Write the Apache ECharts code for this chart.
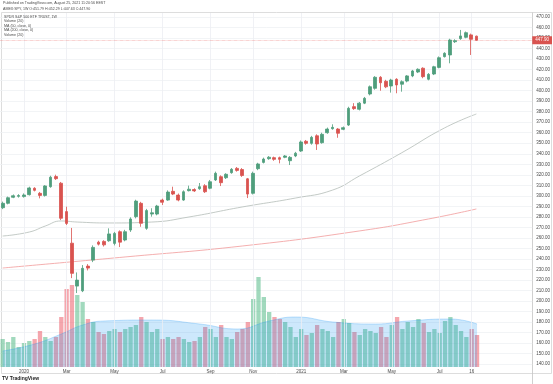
<!DOCTYPE html>
<html><head><meta charset="utf-8">
<script src="https://cdn.jsdelivr.net/npm/echarts@6/dist/echarts.min.js"></script>
<style>html,body{margin:0;padding:0;background:#fff}#c{width:553px;height:384px}</style>
</head><body><div id="c"></div>
<script>
// Weekly OHLC
const openP = [288.7,292.9,298.6,299.5,299.3,301.1,307.2,302.4,300.4,308.7,
318.3,312.0,285.0,255.0,214.2,209.7,233.2,238.9,256.0,256.7,
257.3,254.8,265.9,258.0,267.5,280.2,292.9,269.1,282.7,282.7,
296.0,296.0,304.3,300.7,296.0,304.9,306.0,306.8,309.6,307.2,
315.1,318.2,317.2,322.0,326.1,325.0,316.2,302.4,325.8,331.8,
335.3,336.3,336.3,336.6,333.4,337.9,342.6,351.9,349.9,357.1,
350.5,360.0,363.8,363.5,363.2,367.3,384.8,382.3,388.1,396.8,
402.2,412.7,408.9,404.4,410.8,406.1,409.1,414.0,417.7,421.3,
410.8,415.8,422.1,432.3,433.9,446.5,449.4,450.7,453.0,451.8];
const closeP = [292.9,298.2,300.1,300.3,300.8,307.5,305.2,300.4,309.4,317.7,
316.3,278.7,273.8,226.3,219.9,231.1,231.3,251.0,254.1,253.4,
263.8,264.3,256.0,265.9,278.0,295.0,273.9,286.0,283.9,290.3,
293.9,303.6,301.7,296.0,303.9,306.3,304.7,308.7,303.9,313.4,
321.4,312.5,320.5,325.2,324.2,319.3,301.7,321.4,330.3,335.0,
336.7,334.7,334.7,337.9,336.6,340.5,351.2,349.9,355.6,349.3,
358.5,363.5,365.1,359.5,364.8,383.2,382.9,388.1,392.7,403.7,
412.7,407.5,403.6,410.1,405.4,408.5,414.0,418.7,420.3,413.3,
415.5,422.7,431.3,435.5,448.1,447.5,452.0,455.1,448.8,447.9];
const lowP = [287.4,291.9,297.8,298.3,298.3,300.3,304.2,297.6,299.3,307.7,
315.1,277.0,272.3,221.8,207.6,208.5,229.1,237.0,252.8,251.8,
256.3,252.9,251.3,256.8,265.7,278.6,270.6,267.7,280.2,281.5,
291.3,295.3,300.7,294.8,295.3,304.2,303.7,305.7,302.7,306.2,
314.1,309.3,316.0,321.0,323.0,318.0,297.9,301.3,324.4,330.8,
334.3,333.3,330.9,335.8,329.3,336.8,341.7,348.6,348.6,343.6,
349.6,359.0,362.9,355.2,362.4,366.4,381.7,381.2,387.2,395.5,
400.9,399.9,402.4,398.1,397.5,399.0,407.9,412.8,416.7,411.8,
409.8,414.8,421.2,431.5,426.0,445.3,448.3,449.8,433.9,447.6];
const highP = [294.5,299.3,301.3,301.6,302.3,308.7,308.2,303.7,310.2,319.1,
320.1,313.2,289.7,269.5,227.2,234.2,235.1,252.9,257.3,257.8,
269.1,265.7,267.2,267.7,279.6,296.3,294.3,287.6,288.2,291.4,
297.3,305.2,308.7,302.2,305.2,309.7,307.2,312.2,311.1,315.1,
323.0,319.5,321.5,326.4,327.4,326.4,317.0,323.0,331.4,336.3,
337.8,337.3,337.3,338.8,337.8,341.8,352.6,353.1,357.0,358.5,
360.0,364.9,368.0,364.4,365.9,384.7,388.1,389.2,394.0,404.9,
413.8,413.8,410.3,411.3,411.8,409.8,414.8,419.7,421.2,422.2,
416.7,423.6,432.5,436.5,449.3,448.8,457.7,456.2,454.2,452.3];
// Volume (arbitrary units)
const volume = [280,250,300,200,240,260,280,360,300,260,
300,500,780,820,720,650,480,450,350,330,
360,380,350,380,400,420,500,450,350,380,
280,300,280,300,280,250,260,300,400,380,
300,420,300,280,350,380,450,680,900,700,
550,500,480,450,400,300,380,320,340,420,
380,360,300,450,480,440,350,320,380,360,
340,400,300,420,500,380,450,400,480,440,
350,380,340,460,500,420,360,300,380,320];
// Moving averages read at points [weekIndex, value]
const ma50 = [[0,261.8],[5,265.6],[8,271.3],[11,276.1],[14,275.1],[20,274.2],[28,275.1],[35,279.9],[45,289.4],[55,297.9],[62,305.5],[67,318.8],[75,341.0],[83,364.5],[89,377.8]];
const ma200 = [[0,231.4],[23,241.9],[45,252.3],[67,266.6],[80,278.0],[89,287.5]];
const volMA = [[0,160],[6,230],[11,330],[15,420],[19,460],[28,470],[37,430],[44,380],[50,460],[55,500],[62,450],[70,430],[76,460],[84,480],[89,430]];
// Time-axis ticks
const tickIndex = [4,12,21,30,39,47,56,64,73,82,88];
const tickLabel = ['2020','Mar','May','Jul','Sep','Nov','2021','Mar','May','Jul','16'];
const totalSlots = 100;

const cats = [];
const start = new Date(Date.UTC(2019, 11, 9));
for (let i = 0; i < totalSlots; i++) {
  const d = new Date(start.getTime() + i * 7 * 864e5);
  cats.push(d.toISOString().slice(0, 10));
}
const UP = '#4f9e7c', DOWN = '#d9534f';
const candles = openP.map((o, i) => [o, closeP[i], lowP[i], highP[i]]);
const volData = volume.map((v, i) => ({
  value: v,
  itemStyle: { color: closeP[i] >= openP[i] ? 'rgba(83,185,135,0.55)' : 'rgba(235,77,92,0.5)' }
}));
const lastClose = closeP[closeP.length - 1];

const chart = echarts.init(document.getElementById('c'), null, { renderer: 'canvas' });
const txt = (x, y, s, size, extra) => ({ type: 'text', left: x, top: y, silent: true, z: 100,
  style: Object.assign({ text: s, fill: '#4a4a4a', fontSize: size, fontFamily: 'Liberation Sans, Arial, sans-serif' }, extra || {}) });

chart.setOption({
  animation: false,
  backgroundColor: '#ffffff',
  grid: [
    { left: 0, right: 20, top: 17, bottom: 19.84 },
    { left: 0, right: 20, top: 13, bottom: 17 }
  ],
  xAxis: [
    { type: 'category', gridIndex: 0, data: cats, boundaryGap: true,
      axisLine: { show: false }, axisTick: { show: false }, axisLabel: { show: false }, splitLine: { show: false } },
    { type: 'category', gridIndex: 1, data: cats, boundaryGap: true,
      axisLine: { show: false }, axisTick: { show: false }, splitLine: { show: false },
      axisLabel: { interval: (i) => tickIndex.includes(i), formatter: (v, i) => tickLabel[tickIndex.indexOf(i)] || '',
        fontSize: 4.5, color: '#4a4a4a', margin: 2, fontFamily: 'Liberation Sans, Arial, sans-serif' } }
  ],
  yAxis: [
    { type: 'value', gridIndex: 0, position: 'right', min: 140, max: 470, interval: 10,
      axisLine: { show: false }, axisTick: { show: false },
      axisLabel: { fontSize: 4.5, color: '#4a4a4a', margin: 4, formatter: (v) => v.toFixed(2), fontFamily: 'Liberation Sans, Arial, sans-serif' },
      splitLine: { lineStyle: { color: '#eff1f4', width: 0.8 } } },
    { type: 'value', gridIndex: 1, min: 0, max: 3540, show: false, splitLine: { show: false } }
  ],
  series: [
    { type: 'bar', xAxisIndex: 1, yAxisIndex: 1, data: volData, barWidth: 4.3, z: 1,
      markLine: { silent: true, symbol: 'none', label: { show: false },
        lineStyle: { color: '#eceef2', width: 0.8, type: 'solid' },
        data: tickIndex.map(i => ({ xAxis: i })) } },
    { type: 'line', xAxisIndex: 1, yAxisIndex: 1, data: volMA, smooth: true, symbol: 'none', z: 2,
      lineStyle: { color: 'rgba(33,150,243,0.45)', width: 0.6 },
      areaStyle: { color: 'rgba(33,150,243,0.32)' } },
    { type: 'line', xAxisIndex: 0, yAxisIndex: 0, data: ma200, smooth: true, symbol: 'none', z: 3,
      lineStyle: { color: '#f19a9a', width: 0.8 } },
    { type: 'line', xAxisIndex: 0, yAxisIndex: 0, data: ma50, smooth: true, symbol: 'none', z: 3,
      lineStyle: { color: '#b4bcb8', width: 0.8 } },
    { type: 'candlestick', xAxisIndex: 0, yAxisIndex: 0, data: candles, barWidth: 3.2, z: 5,
      itemStyle: { color: UP, color0: DOWN, borderColor: UP, borderColor0: DOWN, borderWidth: 0.8 },
      markLine: { silent: true, symbol: 'none',
        lineStyle: { color: '#ee8a86', width: 0.6, type: 'dotted' },
        label: { show: true, position: 'end', distance: 0, formatter: lastClose.toFixed(2),
          backgroundColor: DOWN, color: '#fff', fontSize: 4.5, padding: [1.5, 3, 1.5, 3], fontFamily: 'Liberation Sans, Arial, sans-serif' },
        data: [{ yAxis: lastClose }] } }
  ],
  graphic: [
    { type: 'rect', silent: true, z: 0, shape: { x: 1.5, y: 12.5, width: 550, height: 361 },
      style: { fill: 'none', stroke: '#d4d4d4', lineWidth: 0.8 } },
    { type: 'line', silent: true, z: 0, shape: { x1: 532.5, y1: 12.5, x2: 532.5, y2: 384 },
      style: { stroke: '#c4c4c4', lineWidth: 0.8 } },
    txt(3, 1, 'Published on TradingView.com, August 25, 2021 11:20:56 EEST', 3.6),
    txt(3, 6.5, 'AMEX:SPY, 1W O:451.79 H:452.29 L:447.63 C:447.90', 3.6),
    txt(4, 14.5, 'SPDR S&P 500 ETF TRUST, 1W', 3.6),
    txt(4, 19, 'Volume (20)', 3.6),
    txt(4, 23.5, 'MA (50, close, 0)', 3.6),
    txt(4, 28, 'MA (200, close, 0)', 3.6),
    txt(4, 32.5, 'Volume (20)', 3.6),
    txt(2, 376.5, 'TV TradingView', 5, { fontWeight: 'bold', fill: '#222' })
  ]
});
</script></body></html>
